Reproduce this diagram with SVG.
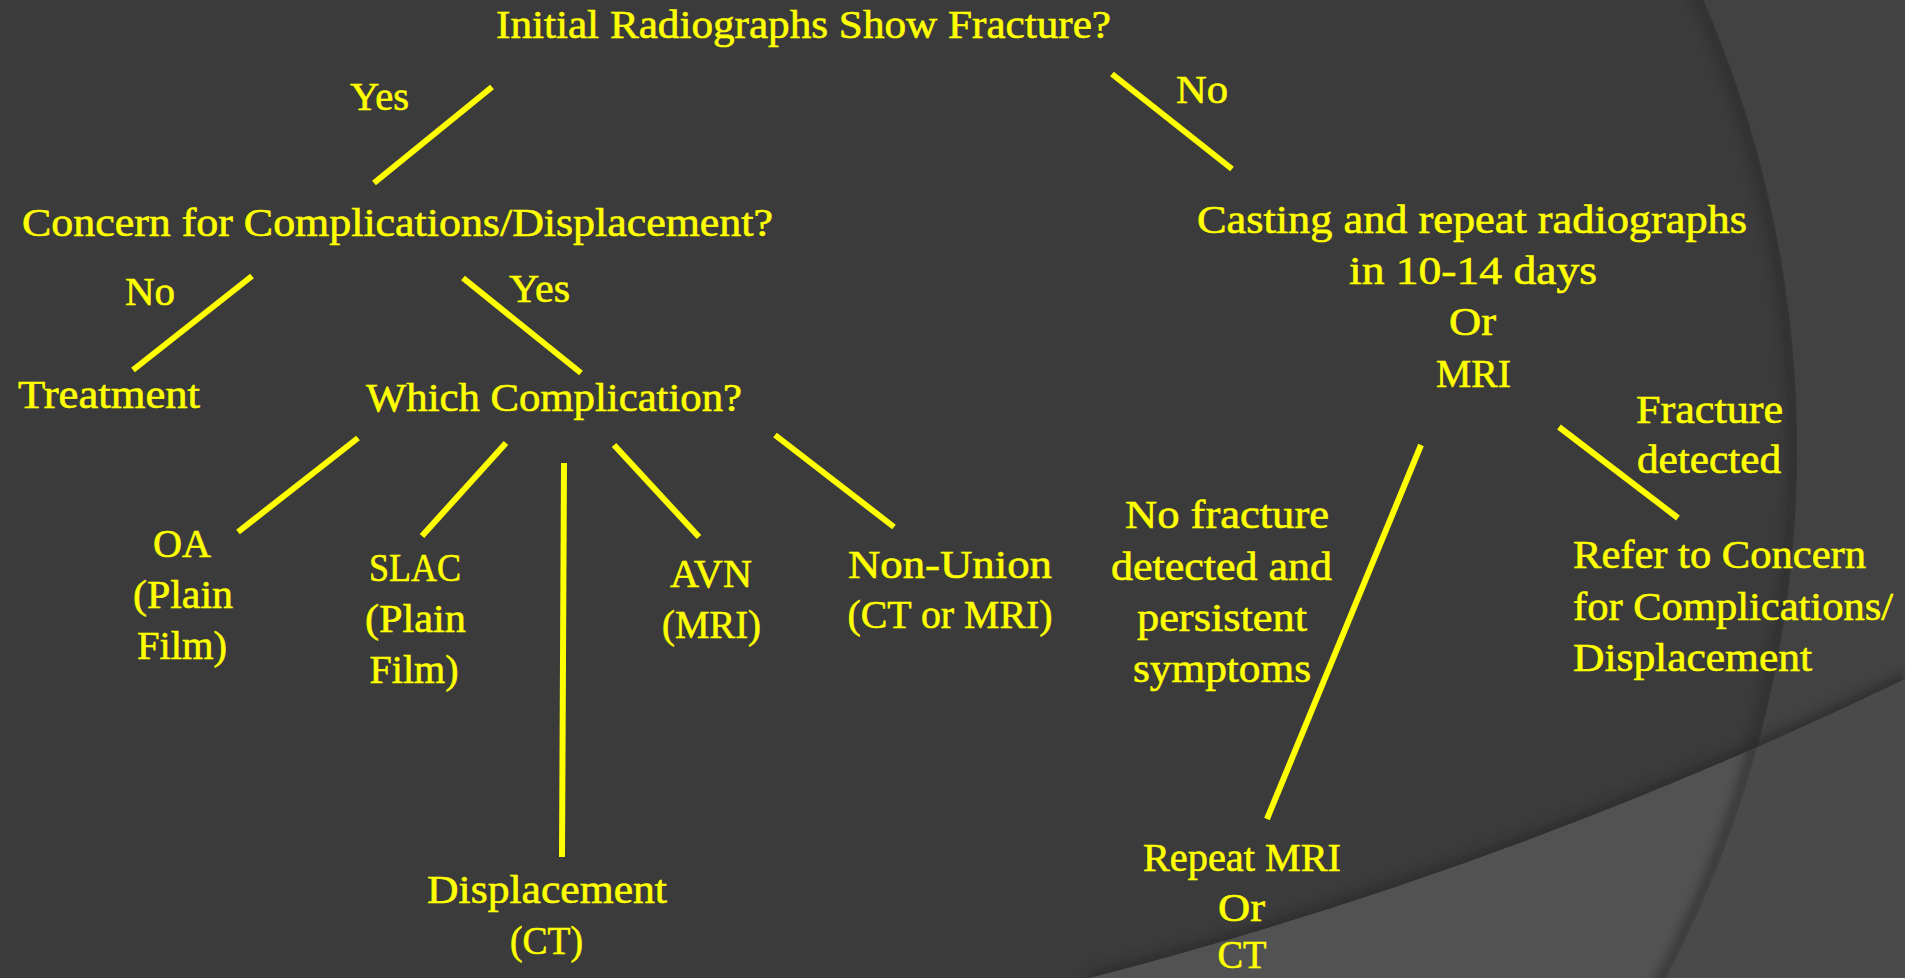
<svg xmlns="http://www.w3.org/2000/svg" width="1905" height="978" viewBox="0 0 1905 978">
<style>
text{font-family:"Liberation Serif","Times New Roman",serif;font-size:40px;fill:#ffff00;stroke:#ffff00;stroke-width:0.6;text-anchor:middle}
text.l{text-anchor:start}
.c line{stroke:#ffff00;stroke-width:6;stroke-linecap:butt}
</style>
<defs>
<clipPath id="inC"><circle cx="670" cy="450" r="1127"/></clipPath>
<filter id="bl" x="-10%" y="-10%" width="120%" height="120%"><feGaussianBlur stdDeviation="5"/></filter>
</defs>
<g id="background">
<rect width="1905" height="978" fill="#424242"/>
<circle cx="670" cy="450" r="1127" fill="#3b3b3b"/>
<path d="M1090 978 A4446 4446 0 0 0 1905 679" fill="none" stroke="#2c2c2c" stroke-width="14" opacity="0.7" filter="url(#bl)"/>
<path d="M1090 978 A4446 4446 0 0 0 1905 679 L1905 978 Z" fill="#4a4a4a"/>
<path d="M1090 978 A4446 4446 0 0 0 1905 679 L1905 978 Z" fill="#525252" clip-path="url(#inC)"/>
<g clip-path="url(#inC)"><circle cx="670" cy="450" r="1124" fill="none" stroke="#2a2a2a" stroke-width="12" opacity="0.6" filter="url(#bl)"/></g>
</g>
<g class="c" id="connectors">
<line x1="492" y1="87" x2="374" y2="183"/>
<line x1="1112" y1="74" x2="1232" y2="169"/>
<line x1="252" y1="276" x2="133" y2="370"/>
<line x1="463" y1="278" x2="581" y2="373"/>
<line x1="358" y1="438" x2="238" y2="532"/>
<line x1="506" y1="443" x2="422" y2="536"/>
<line x1="564" y1="463" x2="562" y2="857"/>
<line x1="614" y1="445" x2="699" y2="537"/>
<line x1="775" y1="435" x2="894" y2="527"/>
<line x1="1559" y1="427" x2="1678" y2="518"/>
<line x1="1421" y1="445" x2="1267" y2="819"/>
</g>
<g id="labels">
<text x="379.5" y="110" textLength="59" lengthAdjust="spacingAndGlyphs">Yes</text>
<text x="1202" y="103" textLength="52" lengthAdjust="spacingAndGlyphs">No</text>
<text x="150" y="305" textLength="50" lengthAdjust="spacingAndGlyphs">No</text>
<text x="539.5" y="302" textLength="61" lengthAdjust="spacingAndGlyphs">Yes</text>
<text x="1709.5" y="423" textLength="147" lengthAdjust="spacingAndGlyphs">Fracture</text>
<text x="1709" y="473" textLength="144" lengthAdjust="spacingAndGlyphs">detected</text>
<text x="1227" y="528" textLength="204" lengthAdjust="spacingAndGlyphs">No fracture</text>
<text x="1221.5" y="580" textLength="221" lengthAdjust="spacingAndGlyphs">detected and</text>
<text x="1222" y="631" textLength="170" lengthAdjust="spacingAndGlyphs">persistent</text>
<text x="1222" y="682" textLength="178" lengthAdjust="spacingAndGlyphs">symptoms</text>
</g>
<g id="n-initial"><text x="803.5" y="38" textLength="615" lengthAdjust="spacingAndGlyphs">Initial Radiographs Show Fracture?</text></g>
<g id="n-concern"><text x="397.5" y="236" textLength="751" lengthAdjust="spacingAndGlyphs">Concern for Complications/Displacement?</text></g>
<g id="n-casting">
<text x="1472" y="233" textLength="550" lengthAdjust="spacingAndGlyphs">Casting and repeat radiographs</text>
<text x="1473" y="284" textLength="248" lengthAdjust="spacingAndGlyphs">in 10-14 days</text>
<text x="1472.5" y="335" textLength="47" lengthAdjust="spacingAndGlyphs">Or</text>
<text x="1473.5" y="387" textLength="75" lengthAdjust="spacingAndGlyphs">MRI</text>
</g>
<g id="n-treatment"><text class="l" x="18" y="408" textLength="182" lengthAdjust="spacingAndGlyphs">Treatment</text></g>
<g id="n-which"><text x="554" y="411" textLength="376" lengthAdjust="spacingAndGlyphs">Which Complication?</text></g>
<g id="n-oa">
<text x="182" y="557" textLength="58" lengthAdjust="spacingAndGlyphs">OA</text>
<text x="183" y="608" textLength="100" lengthAdjust="spacingAndGlyphs">(Plain</text>
<text x="182" y="659" textLength="90" lengthAdjust="spacingAndGlyphs">Film)</text>
</g>
<g id="n-slac">
<text x="415" y="581" textLength="92" lengthAdjust="spacingAndGlyphs">SLAC</text>
<text x="415.5" y="632" textLength="101" lengthAdjust="spacingAndGlyphs">(Plain</text>
<text x="414" y="683" textLength="89" lengthAdjust="spacingAndGlyphs">Film)</text>
</g>
<g id="n-avn">
<text x="711" y="587" textLength="82" lengthAdjust="spacingAndGlyphs">AVN</text>
<text x="711.5" y="638" textLength="99" lengthAdjust="spacingAndGlyphs">(MRI)</text>
</g>
<g id="n-nonunion">
<text x="950" y="578" textLength="204" lengthAdjust="spacingAndGlyphs">Non-Union</text>
<text x="950" y="628" textLength="205" lengthAdjust="spacingAndGlyphs">(CT or MRI)</text>
</g>
<g id="n-displacement">
<text x="547" y="903" textLength="240" lengthAdjust="spacingAndGlyphs">Displacement</text>
<text x="546.5" y="954" textLength="73" lengthAdjust="spacingAndGlyphs">(CT)</text>
</g>
<g id="n-refer">
<text class="l" x="1573" y="568" textLength="293" lengthAdjust="spacingAndGlyphs">Refer to Concern</text>
<text class="l" x="1573" y="620" textLength="320" lengthAdjust="spacingAndGlyphs">for Complications/</text>
<text class="l" x="1573" y="671" textLength="239" lengthAdjust="spacingAndGlyphs">Displacement</text>
</g>
<g id="n-repeat">
<text x="1242" y="871" textLength="198" lengthAdjust="spacingAndGlyphs">Repeat MRI</text>
<text x="1241.5" y="921" textLength="47" lengthAdjust="spacingAndGlyphs">Or</text>
<text x="1242" y="968" textLength="49" lengthAdjust="spacingAndGlyphs">CT</text>
</g>
</svg>
